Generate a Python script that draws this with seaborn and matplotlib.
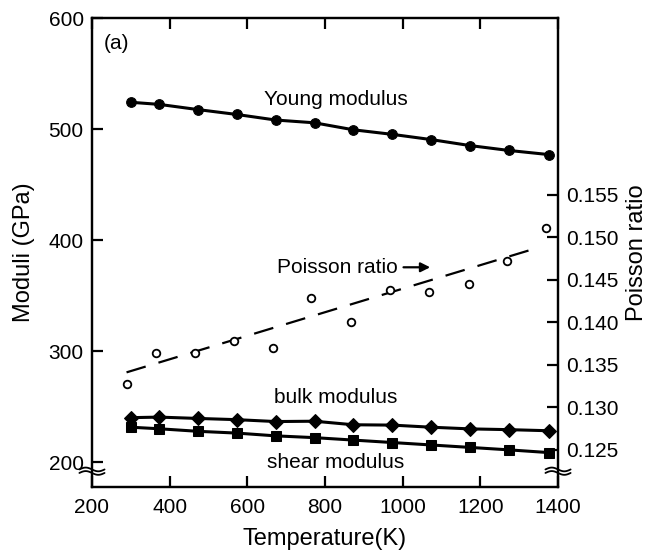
import numpy as np
import matplotlib
matplotlib.use("Agg")
import matplotlib.pyplot as plt
import seaborn as sns

# ---- data ----
temps = [300, 373, 473, 573, 673, 773, 873, 973, 1073, 1173, 1273, 1378]
young = [524.2, 522.3, 517.6, 513.2, 508.2, 505.7, 499.4, 495.3, 490.6, 485.2, 480.8, 477.0]
bulk = [240.0, 240.5, 239.3, 238.2, 236.5, 236.8, 233.6, 233.3, 231.4, 229.9, 229.2, 228.2]
shear = [231.4, 230.0, 227.7, 226.1, 223.6, 222.0, 219.8, 217.6, 215.4, 213.2, 211.0, 208.5]

poisson_T = [290, 365, 465, 565, 665, 765, 866, 967, 1068, 1170, 1268, 1370]
poisson = [0.1327, 0.1364, 0.1364, 0.1378, 0.1370, 0.1428, 0.1400, 0.1438, 0.1436, 0.1445, 0.1472, 0.1511]
fit_T = [289, 1350]
fit_poisson = [0.1341, 0.1488]

x_ticks = [200, 400, 600, 800, 1000, 1200, 1400]
y_ticks = [200, 300, 400, 500, 600]
p_ticks = [0.125, 0.130, 0.135, 0.140, 0.145, 0.150, 0.155]

sns.set_style("ticks")
plt.rcParams['font.family'] = ['Liberation Sans', 'DejaVu Sans']
plt.rcParams.update({
    'axes.linewidth': 1.6,
    'text.color': 'black',
    'axes.labelcolor': 'black',
    'axes.edgecolor': 'black',
    'xtick.color': 'black',
    'ytick.color': 'black',
})

fig = plt.figure(figsize=(6.5, 5.5), dpi=100)
ax = fig.add_axes([0.1415, 0.1145, 0.717, 0.8525])
ax2 = ax.twinx()

lw = 2.2
sns.lineplot(x=temps, y=young, ax=ax, color='black', lw=lw, marker='o', markersize=7,
             markeredgecolor='black')
sns.lineplot(x=temps, y=bulk, ax=ax, color='black', lw=lw, marker='D', markersize=7.5,
             markeredgecolor='black')
sns.lineplot(x=temps, y=shear, ax=ax, color='black', lw=lw, marker='s', markersize=7.5,
             markeredgecolor='black')

sns.scatterplot(x=poisson_T, y=poisson, ax=ax2, s=30, facecolor='white',
                edgecolor='black', linewidth=1.3, zorder=3)
ax2.plot(fit_T, fit_poisson, color='black', lw=1.6, dashes=(9, 6))

ax.set_xlim(200, 1400)
ax.set_ylim(177.5, 600)
ax2.set_ylim(0.1206, 0.1758)

ax.set_xticks(x_ticks)
ax.set_yticks(y_ticks)
ax2.set_yticks(p_ticks)
ax2.set_yticklabels([f"{v:.3f}" for v in p_ticks])

fs = 15
ax.tick_params(axis='both', which='major', direction='in', length=8, width=1.6,
               labelsize=fs, top=True, right=False, pad=6, colors='black')
ax.tick_params(axis='x', pad=8)
ax2.tick_params(axis='y', direction='in', length=8, width=1.6, labelsize=fs, pad=6,
                colors='black')

ax.set_xlabel("Temperature(K)", fontsize=17, labelpad=8, color='black')
ax.set_ylabel("Moduli (GPa)", fontsize=17, labelpad=10, color='black')
ax2.set_ylabel("Poisson ratio", fontsize=17, labelpad=5, color='black')

for a in (ax, ax2):
    for s in a.spines.values():
        s.set_linewidth(1.6)
        s.set_color('black')
        s.set_visible(True)

# annotations
ax.text(262, 577, "(a)", fontsize=15, ha='center', va='center', color='black')
ax.text(828, 527, "Young modulus", fontsize=15, ha='center', va='center', color='black')
ax.text(828, 258, "bulk modulus", fontsize=15, ha='center', va='center', color='black')
ax.text(828, 199.5, "shear modulus", fontsize=15, ha='center', va='center', color='black')
ax.text(988, 375.5, "Poisson ratio", fontsize=15, ha='right', va='center', color='black')
ax.annotate("", xy=(1078, 375.5), xytext=(995, 375.5),
            arrowprops=dict(arrowstyle='-|>', color='black', lw=1.6,
                            mutation_scale=14))

# axis break marks
def brk(x0):
    xs = np.linspace(-0.027, 0.027, 40)
    for dy in (0.0, 0.0075):
        ys = 0.030 + dy + 0.004 * np.sin((xs + 0.027) / 0.054 * 2 * np.pi)
        ax.plot(x0 + xs, ys, transform=ax.transAxes, color='black', lw=1.3,
                clip_on=False, zorder=5)

brk(0.0)
brk(1.0)

fig.savefig("out.png", dpi=100)
